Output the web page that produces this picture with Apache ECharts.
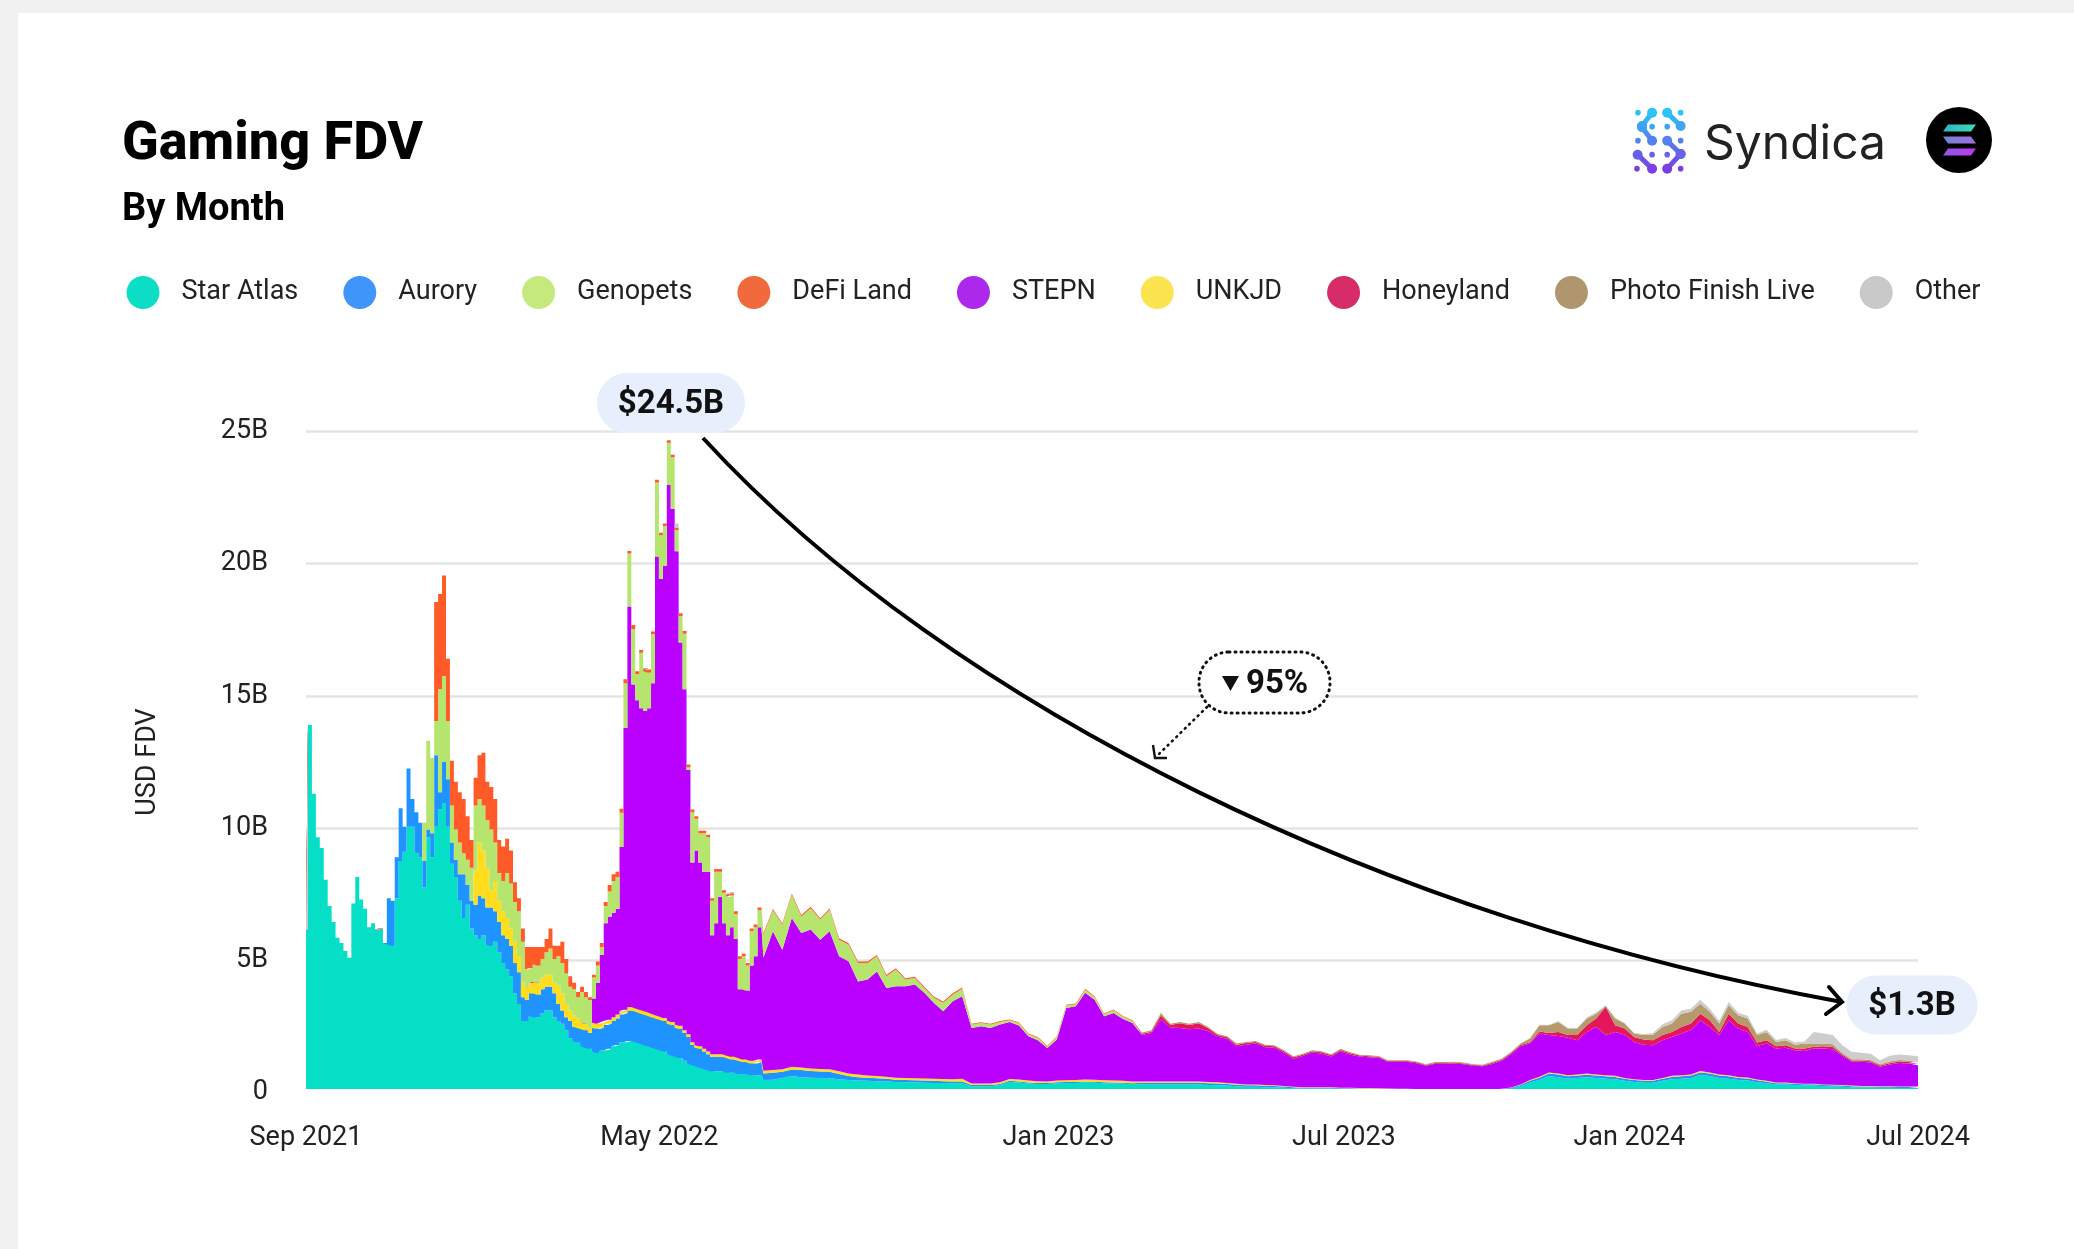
<!DOCTYPE html>
<html><head><meta charset="utf-8">
<script src="https://cdn.jsdelivr.net/npm/echarts@6/dist/echarts.min.js"></script>
<style>
html,body{margin:0;padding:0;background:#f1f1f1;width:2074px;height:1249px;overflow:hidden}
#card{position:absolute;left:18px;top:13px;right:0;bottom:0;background:#fff}
#c{position:absolute;left:0;top:0;width:2074px;height:1249px}
</style></head><body><div id="card"></div><div id="c"></div>
<script>
var legendNames = ['Star Atlas','Aurory','Genopets','DeFi Land','STEPN','UNKJD','Honeyland','Photo Finish Live','Other'];
var tickDates = ['2021-09-13','2022-04-25','2023-01-03','2023-07-03','2023-12-31','2024-07-01'];
var tickLabels = ['Sep 2021','May 2022','Jan 2023','Jul 2023','Jan 2024','Jul 2024'];

// Values in billions USD (116 + 123 samples)
var starAtlas = [
6.15,13.9,11.3,9.65,9.25,8.05,7.05,6.45,5.85,5.65,
5.35,5.1,7.15,8.15,7.3,6.95,6.25,6.4,6.15,6.2,
5.65,5.6,5.55,7.35,8.75,9.1,10.05,10.05,9.05,8.9,
7.75,9.65,8.9,10.05,10.7,10.95,10.05,8.65,8.15,7.25,
6.6,7.1,6.2,5.95,5.8,5.95,5.6,5.55,5.7,5.3,
4.9,4.65,4.4,3.75,3.35,2.7,2.7,2.9,2.85,2.85,
3.0,3.1,3.1,2.85,2.7,2.6,2.35,2.05,1.95,1.9,
1.75,1.7,1.65,1.55,1.5,1.6,1.6,1.65,1.75,1.8,
1.9,1.9,1.95,1.95,1.9,1.85,1.8,1.75,1.7,1.65,
1.6,1.55,1.45,1.4,1.35,1.3,1.2,1.1,1.05,1.0,
.95,.9,.85,.8,.8,.8,.8,.75,.75,.75,
.7,.7,.7,.65,.65,.65,
.47,.48,.55,.62,.58,.56,.55,.54,.5,.47,
.45,.44,.43,.42,.4,.39,.38,.37,.36,.36,
.35,.35,.24,.24,.24,.28,.4,.38,.34,.32,
.32,.35,.36,.36,.38,.37,.35,.34,.33,.32,
.3,.3,.3,.3,.3,.3,.3,.28,.27,.26,
.24,.22,.22,.2,.2,.18,.16,.15,.15,.15,
.15,.13,.13,.12,.12,.12,.11,.1,.1,.1,
.09,.09,.08,.08,.07,.07,.07,.07,.1,.15,
.24,.38,.48,.62,.58,.52,.55,.58,.55,.52,
.5,.44,.4,.37,.37,.44,.5,.52,.55,.66,
.62,.55,.52,.47,.45,.39,.35,.3,.3,.28,
.26,.26,.24,.23,.22,.2,.19,.19,.18,.18,
.17,.17,.17];
var aurory = [
0,0,0,0,0,0,0,0,0,0,
0,0,0,0,0,0,0,0,0,0,
0,1.75,1.7,1.55,2.0,.95,2.2,1.05,1.55,1.3,
1.0,.3,.9,2.7,.65,1.55,1.8,.8,.65,1.0,
1.65,.75,1.05,1.15,1.65,1.4,1.4,1.45,1.15,1.15,
1.05,1.15,1.15,1.15,1.2,.9,.8,.85,.9,.85,
.9,.9,.9,.9,.65,.5,.5,.65,.55,.55,
.65,.65,.6,.9,.9,.85,.95,.95,.95,1.0,
1.05,1.1,1.15,1.15,1.15,1.15,1.15,1.15,1.15,1.15,
1.15,1.15,1.15,1.15,1.1,1.1,1.05,1.0,.75,.7,
.7,.65,.6,.55,.55,.55,.55,.55,.5,.5,
.5,.45,.45,.45,.45,.5,
.25,.27,.23,.25,.27,.25,.24,.24,.2,.15,
.13,.12,.11,.1,.08,.08,.08,.08,.08,.07,
.07,.07,.04,.04,.04,.04,.04,.04,.04,.04,
.04,.04,.04,.04,.04,.04,.04,.04,.04,.03,
.07,.07,.07,.07,.07,.07,.07,.07,.07,.06,
.05,.05,.05,.05,.05,.05,.04,.03,.03,.03,
.03,.03,.03,.03,.03,.02,.02,.02,.02,.02,
.02,.02,.02,.02,.02,.02,.02,.02,.03,.03,
.04,.06,.08,.1,.1,.09,.09,.09,.09,.09,
.09,.08,.07,.07,.07,.08,.09,.09,.09,.1,
.1,.09,.09,.08,.08,.07,.06,.05,.05,.05,
.05,.05,.04,.04,.04,.04,.04,.04,.04,.04,
.04,.04,.04];
var unkjd = [
0,0,0,0,0,0,0,0,0,0,
0,0,0,0,0,0,0,0,0,0,
0,0,0,0,0,0,0,0,0,0,
0,0,0,0,0,0,0,0,0,0,
0,0,0,1.3,2.0,1.8,1.5,.65,1.15,.8,
.9,.8,.65,.8,.6,.55,.45,.4,.45,.45,
.45,.45,.45,.4,.7,.65,.5,.4,.4,.35,
.25,.25,.2,.2,.2,.2,.15,.15,.15,.15,
.13,.13,.13,.13,.13,.13,.13,.13,.13,.12,
.12,.12,.12,.12,.12,.12,.1,.1,.1,.1,
.1,.1,.1,.1,.1,.1,.1,.1,.1,.1,
.1,.1,.1,.1,.1,.1,
.1,.1,.1,.1,.1,.1,.1,.1,.1,.1,
.1,.08,.08,.08,.08,.08,.08,.08,.08,.08,
.08,.1,.06,.06,.06,.07,.07,.07,.07,.07,
.06,.06,.06,.07,.07,.07,.07,.07,.07,.07,
.05,.05,.05,.05,.05,.05,.05,.05,.05,.04,
.04,.03,.03,.03,.02,.02,.02,.02,.02,.02,
.02,.02,.02,.02,.02,.02,.02,.02,.02,.01,
.01,.01,.01,.01,.01,.01,.01,.01,.01,.01,
.02,.03,.04,.04,.04,.04,.04,.05,.04,.04,
.04,.03,.03,.03,.03,.03,.04,.04,.04,.05,
.04,.04,.04,.04,.04,.03,.03,.03,.03,.02,
.02,.02,.02,.02,.02,.02,.02,.02,.02,.02,
.02,.02,.02];
var stepn = [
0,0,0,0,0,0,0,0,0,0,
0,0,0,0,0,0,0,0,0,0,
0,0,0,0,0,0,0,0,0,0,
0,0,0,0,0,0,0,0,0,0,
0,0,0,0,0,0,0,0,0,0,
0,0,0,0,0,0,0,0,0,0,
0,0,0,0,0,0,0,0,0,0,
0,0,0,.9,1.55,2.55,3.7,3.9,3.95,4.0,
6.2,10.65,15.15,12.2,11.65,11.4,11.35,11.5,12.5,17.35,
16.55,17.1,20.25,19.4,17.9,14.5,12.9,10.0,6.8,7.35,
6.95,6.7,6.8,4.5,4.95,5.95,4.95,4.55,4.9,4.45,
2.6,2.65,2.6,3.6,3.95,5.0,
4.28,5.25,4.52,5.63,5.08,5.25,4.89,5.22,4.35,4.24,
3.52,3.63,3.96,3.35,3.46,3.47,3.54,3.24,2.87,2.56,
2.95,3.12,2.1,2.17,2.1,2.18,2.16,2.04,1.68,1.55,
1.26,1.55,2.74,2.79,3.28,3.03,2.42,2.56,2.34,2.21,
1.75,1.83,2.34,2.04,2.02,1.97,2.0,1.93,1.72,1.67,
1.42,1.51,1.55,1.43,1.42,1.25,1.06,1.18,1.31,1.27,
1.16,1.38,1.25,1.19,1.16,1.15,1.01,1.02,1.02,.98,
.89,.97,.98,.99,.97,.91,.89,.98,1.06,1.26,
1.45,1.38,1.63,1.41,1.42,1.42,1.3,1.57,1.8,1.52,
1.66,1.64,1.41,1.34,1.32,1.43,1.47,1.58,1.68,1.92,
1.72,1.49,2.08,1.83,1.72,1.27,1.41,1.28,1.31,1.25,
1.24,1.33,1.36,1.35,1.11,.9,.91,.88,.73,.82,
.89,.87,.8];
var genopets = [
0,0,0,0,0,0,0,0,0,0,
0,0,0,0,0,0,0,0,0,0,
0,0,0,0,0,0,0,0,0,0,
1.45,3.35,2.85,1.3,3.9,3.25,2.2,1.4,1.15,1.2,
.8,.95,1.25,2.45,1.65,1.7,1.8,2.3,1.45,1.05,
1.15,1.7,1.7,1.5,1.7,1.55,.7,.55,.65,.65,
.7,.85,1.0,.9,1.1,1.15,1.15,.9,1.0,.8,
1.15,1.0,1.05,.8,.65,.3,.65,.95,1.2,1.2,
1.3,1.7,2.0,2.1,1.0,2.1,1.5,1.35,1.85,2.8,
1.65,1.5,1.6,1.95,.8,1.0,2.1,.1,1.9,1.2,
1.1,1.45,1.3,1.3,1.95,.95,1.15,1.45,1.2,.95,
1.15,1.25,.95,1.3,1.1,.65,
.87,.8,.95,.88,.63,.81,.76,.81,.63,.63,
.7,.63,.57,.45,.63,.25,.25,.18,.19,.32,
.25,.28,.13,.12,.13,.1,.06,.1,.07,.09,
.06,.09,.09,.08,.12,.1,.08,.1,.08,.07,
0,0,0,0,0,0,0,0,0,0,
0,0,0,0,0,0,0,0,0,0,
0,0,0,0,0,0,0,0,0,0,
0,0,0,0,0,0,0,0,0,0,
0,0,0,0,0,0,0,0,0,0,
0,0,0,0,0,0,0,0,0,0,
0,0,0,0,0,0,0,0,0,0,
0,0,0,0,0,0,0,0,0,0,
0,0,0];
var defiLand = [
0,0,0,0,0,0,0,0,0,0,
0,0,0,0,0,0,0,0,0,0,
0,0,0,0,0,0,0,0,0,0,
0,0,0,4.5,3.6,3.8,2.35,1.7,1.8,1.9,
2.05,1.65,1.05,1.05,1.65,2.0,1.45,1.6,1.65,1.25,
1.3,1.3,1.25,.75,.5,.5,.85,.8,.65,.7,
.45,.5,.75,.5,.4,.8,.55,.4,.25,.2,
.2,.2,.1,.1,.15,.15,.15,.25,.25,.2,
.15,.15,.1,.15,.1,.1,.1,.1,.1,.1,
.1,.1,.1,.1,.1,.1,.1,.1,.1,.1,
.1,.1,.1,.1,.1,.1,.1,.1,.1,.1,
.1,.1,.1,.1,.1,.1,
.05,.05,.05,.05,.05,.05,.05,.05,.05,.05,
.05,.05,.05,.05,.05,.05,.05,.05,.05,.05,
.05,.05,.03,.03,.03,.03,.03,.03,.03,.03,
.03,.03,.03,.03,.03,.03,.03,.03,.03,.03,
0,0,0,0,0,0,0,0,0,0,
0,0,0,0,0,0,0,0,0,0,
0,0,0,0,0,0,0,0,0,0,
0,0,0,0,0,0,0,0,0,0,
0,0,0,0,0,0,0,0,0,0,
0,0,0,0,0,0,0,0,0,0,
0,0,0,0,0,0,0,0,0,0,
0,0,0,0,0,0,0,0,0,0,
0,0,0];
var honeyland = [
0,0,0,0,0,0,0,0,0,0,
0,0,0,0,0,0,0,0,0,0,
0,0,0,0,0,0,0,0,0,0,
0,0,0,0,0,0,0,0,0,0,
0,0,0,0,0,0,0,0,0,0,
0,0,0,0,0,0,0,0,0,0,
0,0,0,0,0,0,0,0,0,0,
0,0,0,0,0,0,0,0,0,0,
0,0,0,0,0,0,0,0,0,0,
0,0,0,0,0,0,0,0,0,0,
0,0,0,0,0,0,0,0,0,0,
0,0,0,0,0,0,
0,0,0,0,0,0,0,0,0,0,
0,0,0,0,0,0,0,0,0,0,
0,0,0,0,0,0,0,0,0,0,
0,0,0,0,0,0,0,0,0,0,
.05,.05,.15,.09,.18,.16,.2,.1,.06,.06,
.06,.06,.06,.06,.06,.06,.05,.05,.05,.05,
.05,.05,.05,.04,.04,.04,.03,.03,.03,.03,
.03,.03,.03,.03,.03,.03,.03,.04,.04,.04,
.05,.05,.08,.08,.15,.1,.19,.25,.32,1.07,
.25,.23,.19,.19,.19,.19,.19,.25,.25,.25,
.25,.12,.25,.19,.19,.13,.13,.09,.1,.06,
.09,.07,.09,.08,.05,.05,.05,.05,.05,.05,
.05,.05,.05];
var photoFinish = [
0,0,0,0,0,0,0,0,0,0,
0,0,0,0,0,0,0,0,0,0,
0,0,0,0,0,0,0,0,0,0,
0,0,0,0,0,0,0,0,0,0,
0,0,0,0,0,0,0,0,0,0,
0,0,0,0,0,0,0,0,0,0,
0,0,0,0,0,0,0,0,0,0,
0,0,0,0,0,0,0,0,0,0,
0,0,0,0,0,0,0,0,0,0,
0,0,0,0,0,0,0,0,0,0,
0,0,0,0,0,0,0,0,0,0,
0,0,0,0,0,0,
0,0,0,0,0,0,0,0,0,0,
0,0,0,0,0,0,0,0,0,0,
0,0,0,0,0,0,0,0,0,0,
0,0,0,0,0,0,0,0,0,0,
.05,.05,.1,.05,.05,.05,.05,.05,.04,.04,
.04,.04,.04,.04,.04,.04,.04,.04,.04,.04,
.04,.04,.04,.03,.04,.03,.03,.03,.03,.03,
.03,.03,.03,.03,.03,.03,.03,.04,.04,.04,
.05,.14,.23,.29,.38,.25,.25,.26,.18,.03,
.26,.19,.13,.17,.21,.31,.32,.5,.44,.38,
.32,.32,.32,.31,.32,.28,.31,.16,.19,.15,
.19,.12,.1,.1,.05,.05,.05,.05,.05,.06,
.06,.06,.06];
var other = [
0,0,0,0,0,0,0,0,0,0,
0,0,0,0,0,0,0,0,0,0,
0,0,0,0,0,0,0,0,0,0,
0,0,0,0,0,0,0,0,0,0,
0,0,0,0,0,0,0,0,0,0,
0,0,0,0,0,0,0,0,0,0,
0,0,0,0,0,0,0,0,0,0,
0,0,0,0,0,0,0,0,0,0,
0,0,0,0,0,0,0,0,0,0,
0,0,0,0,.15,0,0,0,0,0,
0,0,0,0,0,0,0,0,0,0,
0,0,0,0,0,0,
0,0,0,0,0,0,0,0,0,0,
0,0,0,0,0,0,0,0,0,0,
0,0,0,0,0,0,0,0,0,0,
0,0,0,0,0,0,0,0,0,0,
0,0,0,0,0,0,0,0,0,0,
0,0,0,0,0,0,0,0,0,0,
0,0,0,0,0,0,0,0,0,0,
0,0,0,0,0,0,0,0,0,0,
0,.02,.02,.02,.03,.03,.03,.04,.05,.03,
.03,.03,.03,.03,.06,.1,.12,.12,.12,.15,
.12,.1,.12,.1,.1,.06,.08,.08,.08,.08,
.08,.44,.38,.35,.3,.28,.24,.24,.15,.22,
.21,.2,.23];

var DAY = 864e5, t0 = Date.UTC(2021,8,13), dates = [];
for (var i=0;i<116;i++) dates.push(t0 + i*2.5*DAY);
for (var j=0;j<123;j++) dates.push(t0 + (290+j*6)*DAY);
var DENSE = 116; // the first, finely read samples are held flat across their width

function toPoints(v){
  var out = [];
  dates.forEach(function(d,k){
    if (k < DENSE) {
      out.push([Math.max(t0, d-1.25*DAY), v[k]]);
      out.push([d+1.25*DAY-1, v[k]]);
    } else {
      out.push([d, v[k]]);
    }
  });
  return out;
}

// bottom-to-top stacking order
var stackOrder = [
 {name:'Star Atlas', v:starAtlas, c:'#05DFC6'},
 {name:'Aurory', v:aurory, c:'#1F93FF'},
 {name:'UNKJD', v:unkjd, c:'#FFDD1C'},
 {name:'STEPN', v:stepn, c:'#BA00FF'},
 {name:'Genopets', v:genopets, c:'#B6E56D'},
 {name:'DeFi Land', v:defiLand, c:'#FF5A28'},
 {name:'Honeyland', v:honeyland, c:'#E3175A'},
 {name:'Photo Finish Live', v:photoFinish, c:'#B59A6B'},
 {name:'Other', v:other, c:'#CDCDCD'}
];
stackOrder.forEach(function(s){ if(s.v.length!==dates.length) throw new Error(s.name+' length '+s.v.length+' vs '+dates.length); });
var legendColors = {'Star Atlas':'#0BDEC4','Aurory':'#3F95F9','Genopets':'#C6E97E','DeFi Land':'#F06A3E','STEPN':'#AC28EC','UNKJD':'#FBE44F','Honeyland':'#D62D68','Photo Finish Live':'#B0966F','Other':'#C9C9C9'};

var tickValues = tickDates.map(function(d){ return Date.parse(d+'T00:00:00Z'); });
var FONT = 'Roboto';

// annotation helpers
var els = [];
function txt(x,y,t,size,weight,color,align,family,zz){ els.push({type:'text',x:x,y:y,z:zz||20,style:{text:t,fontFamily:family||FONT,fontSize:size,fontWeight:weight,fill:color||'#000',align:align||'left',verticalAlign:'middle'}}); }
txt(122,145,'Gaming FDV',54,800);
txt(122,210,'By Month',38,700);
txt(1704,145,'Syndica',48,400,'#222','left','Inter');

// curved arrow
els.push({type:'bezierCurve',z:20,shape:{x1:703,y1:438,cpx1:953,cpy1:710,cpx2:1392,cpy2:921,x2:1842,y2:1002},style:{stroke:'#000',lineWidth:4,fill:null}});
els.push({type:'polyline',z:20,shape:{points:[[1829,987],[1842,1002],[1826,1014]]},style:{stroke:'#000',lineWidth:4,fill:null,lineCap:'round'}});
// badges
function badge(cx,cy,w,h,t,size){
  els.push({type:'rect',z:19,shape:{x:cx-w/2,y:cy-h/2,width:w,height:h,r:h/2},style:{fill:'#E6EFFB'}});
  els.push({type:'text',z:21,x:cx,y:cy+2,style:{text:t,fontFamily:FONT,fontSize:size,fontWeight:700,fill:'#111',align:'center',verticalAlign:'middle'}});
}
badge(671,403,148,60,'$24.5B',33);
badge(1912,1005,131,59,'$1.3B',33);
// 95% callout
els.push({type:'rect',z:19,shape:{x:1199,y:652,width:131,height:61,r:30},style:{fill:'#fff',stroke:'#111',lineWidth:3,lineDash:[1,5],lineCap:'round'}});
els.push({type:'line',z:19,shape:{x1:1207,y1:707,x2:1158,y2:755},style:{stroke:'#111',lineWidth:2.6,lineDash:[1,5],lineCap:'round'}});
els.push({type:'polyline',z:19,shape:{points:[[1153,745],[1155,758],[1167,758]]},style:{stroke:'#111',lineWidth:2.4,fill:null}});
els.push({type:'polygon',z:21,shape:{points:[[1222,676],[1239,676],[1230.5,691]]},style:{fill:'#111'}});
txt(1246,685,'95%',33,700,'#111');

// Syndica mark
var gridX=function(z){return 1600+z/2.976}, gridY=function(z){return 90+z/3};
function markCol(zy){ var t=(zy-68)/168; var a=[41,197,246],b=[123,63,228]; return 'rgb('+a.map(function(v,k){return Math.round(v+(b[k]-v)*t)}).join(',')+')'; }
[[155,68,125,108],[200,68,240,108],[125,112,155,152],[200,152,240,192],[112,194,155,236],[240,192,200,236]].forEach(function(l){
  els.push({type:'line',z:20,shape:{x1:gridX(l[0]),y1:gridY(l[1]),x2:gridX(l[2]),y2:gridY(l[3])},style:{stroke:markCol((l[1]+l[3])/2),lineWidth:5,lineCap:'round'}});
  [[l[0],l[1]],[l[2],l[3]]].forEach(function(p){ els.push({type:'circle',z:20,shape:{cx:gridX(p[0]),cy:gridY(p[1]),r:5},style:{fill:markCol(p[1])}}); });
});
[[113,68],[240,68],[155,110],[200,110],[113,152],[240,152],[155,194],[200,194],[110,236],[240,236]].forEach(function(p){
  els.push({type:'circle',z:20,shape:{cx:gridX(p[0]),cy:gridY(p[1]),r:2.8},style:{fill:markCol(p[1])}});
});
// Solana badge
els.push({type:'circle',z:20,shape:{cx:1959,cy:140,r:33},style:{fill:'#000'}});
[[128,'#3fd9b0','#2fb6c8',1],[140,'#a06be0','#6f86d8',-1],[152,'#c035f0','#8f5be8',1]].forEach(function(b){
  var top=b[3]>0?[[1948,b[0]-3.5],[1976,b[0]-3.5],[1971,b[0]+3.5],[1943,b[0]+3.5]]:[[1943,b[0]-3.5],[1971,b[0]-3.5],[1976,b[0]+3.5],[1948,b[0]+3.5]];
  els.push({type:'polygon',z:21,shape:{points:top},style:{fill:new echarts.graphic.LinearGradient(0,0,1,0,[{offset:0,color:b[2]},{offset:1,color:b[1]}])}});
});

var chart = echarts.init(document.getElementById('c'),null,{width:2074,height:1249});
chart.setOption({
  animation:false, useUTC:true, backgroundColor:'transparent',
  textStyle:{fontFamily:FONT},
  grid:{left:306,right:156,top:431.4,height:661.1},
  legend:{
    left:126.5, top:276, padding:0, itemWidth:33, itemHeight:33, itemGap:45, icon:'circle', selectedMode:false,
    textStyle:{fontFamily:FONT,fontSize:27,color:'#222',padding:[0,0,0,17]},
    data:legendNames.map(function(n){ return {name:n,itemStyle:{color:legendColors[n]}}; })
  },
  xAxis:[{
    // data axis
    type:'time', min:tickValues[0], max:tickValues[5], show:false
  },{
    // label axis over the same range
    type:'value', min:tickValues[0], max:tickValues[5], position:'bottom', z:10,
    axisLine:{onZero:false,lineStyle:{color:'#fff',width:8}}, axisTick:{show:false}, splitLine:{show:false},
    axisLabel:{customValues:tickValues, margin:32, fontSize:27, color:'#222', fontFamily:FONT, hideOverlap:false,
      formatter:function(v){ var k=tickValues.indexOf(+v); return k<0?'':tickLabels[k]; }}
  }],
  yAxis:{
    type:'value', min:0, max:25, interval:5,
    name:'USD FDV', nameLocation:'middle', nameGap:144, nameRotate:90,
    nameTextStyle:{fontFamily:FONT,fontSize:27,color:'#222'},
    axisLine:{show:false}, axisTick:{show:false},
    splitLine:{lineStyle:{color:'#E4E4E4',width:2.5}},
    axisLabel:{margin:38, fontSize:27, color:'#222', fontFamily:FONT, padding:[0,0,14,0],
      formatter:function(v){ return v===0?'0':v+'B'; }}
  },
  series:stackOrder.map(function(s){ return {
    name:s.name, type:'line', xAxisIndex:0, stack:'fdv', symbol:'none', showSymbol:false, sampling:false,
    lineStyle:{width:0}, itemStyle:{color:s.c}, areaStyle:{color:s.c,opacity:1},
    data:toPoints(s.v)
  }; }),
  graphic:{elements:els}
});
</script></body></html>
